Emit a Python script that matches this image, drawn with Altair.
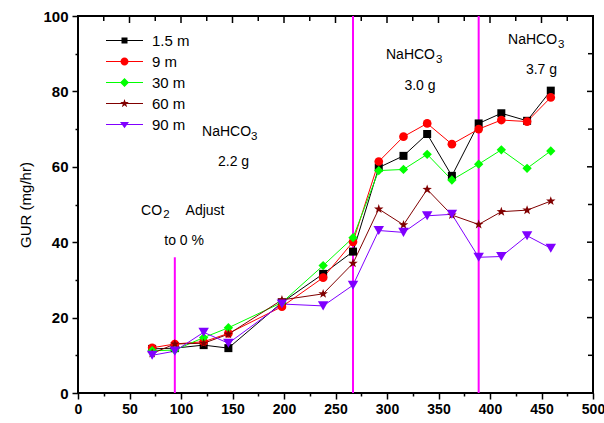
import altair as alt
import pandas as pd

# ---------------- data ----------------
time_min = [72, 94, 122, 146, 198, 238, 267, 292, 316, 339, 363, 389, 411, 436, 459]
gur_1_5m = [11.7, 11.9, 12.7, 11.9, 24.0, 31.6, 37.5, 59.8, 62.9, 68.7, 57.6, 71.5, 74.2, 72.2, 80.2]
gur_9m = [12.0, 13.0, 13.6, 15.8, 22.9, 30.6, 40.1, 61.4, 68.0, 71.5, 66.0, 70.0, 72.4, 72.0, 78.4]
gur_30m = [11.2, 11.4, 14.7, 17.3, 24.0, 33.8, 41.2, 59.0, 59.3, 63.3, 56.5, 60.7, 64.5, 59.6, 64.2]
gur_60m = [10.5, 13.0, 13.2, 15.6, 24.7, 26.3, 34.4, 48.8, 44.6, 54.0, 47.2, 44.7, 48.1, 48.5, 50.9]
gur_90m = [10.0, 11.1, 16.1, 13.2, 23.6, 23.1, 28.6, 43.1, 42.6, 47.0, 47.4, 36.0, 36.2, 41.7, 38.4]

series_names = ["1.5 m", "9 m", "30 m", "60 m", "90 m"]

rule_x = [94, 267, 389]
rule_top = [36, 100, 100]

ann_text = ["NaHCO", "2.2 g", "NaHCO", "3.0 g", "NaHCO", "3.7 g", "CO", "Adjust", "to 0 %"]
ann_x = [144.2, 151, 322.8, 332, 441.3, 450, 71.4, 123.3, 103]
ann_y = [69.3, 61.3, 89.7, 81.4, 93.6, 85.7, 48.3, 48.3, 40.3]

sub_text = ["3", "3", "3", "2"]
sub_x = [171.0, 350.6, 469.1, 85.9]
sub_y = [68.0, 88.3, 92.3, 47.1]

x_ticks = list(range(0, 501, 25))
y_ticks = list(range(0, 101, 10))
x_major = list(range(0, 501, 50))
x_minor = list(range(25, 500, 50))
y_major = list(range(0, 101, 20))
y_minor = list(range(10, 100, 20))

# ---------------- styles ----------------
W, H = 515, 377
X_MAX, Y_MAX = 500, 100
series_colors = ["#000000", "#FF0000", "#00FF00", "#800000", "#8000FF"]
STAR = ("M0,-1L0.235,-0.324L0.951,-0.309L0.38,0.124L0.588,0.809L0,0.4"
        "L-0.588,0.809L-0.38,0.124L-0.951,-0.309L-0.235,-0.324Z")
plot_shapes = ["square", "circle", "diamond", STAR, "triangle-down"]
plot_sizes = [64, 110, 150, 170, 130]

LINE = "M-3.7,-0.1H3.7V0.1H-3.7Z"
STAR_L = ("M0,-0.9L0.21,-0.29L0.86,-0.28L0.34,0.11L0.53,0.73L0,0.36"
          "L-0.53,0.73L-0.34,0.11L-0.86,-0.28L-0.21,-0.29Z")
legend_paths = [
    LINE + "M-0.6,-0.6H0.6V0.6H-0.6Z",
    LINE + "M-0.8,0A0.8,0.8 0 1,1 0.8,0A0.8,0.8 0 1,1 -0.8,0Z",
    LINE + "M0,-0.9L0.9,0L0,0.9L-0.9,0Z",
    LINE + STAR_L,
    LINE + "M-0.9,-0.5L0.9,-0.5L0,0.75Z",
]

FONT = "Liberation Sans"

rows = []
for name, vals in zip(series_names, [gur_1_5m, gur_9m, gur_30m, gur_60m, gur_90m]):
    for t, g in zip(time_min, vals):
        rows.append({"series": name, "t": t, "gur": g})
df = pd.DataFrame(rows)

rules_df = pd.DataFrame({"rx": rule_x, "ry": [0] * len(rule_x), "ry2": rule_top})
ann_df = pd.DataFrame({"tx": ann_x, "ty": ann_y, "label": ann_text})
sub_df = pd.DataFrame({"tx": sub_x, "ty": sub_y, "label": sub_text})

x_scale = alt.Scale(domain=[0, X_MAX], nice=False, zero=False)
y_scale = alt.Scale(domain=[0, Y_MAX], nice=False, zero=False)


def color_scale():
    return alt.Scale(domain=series_names, range=series_colors)


def cond(step, major, minor):
    return {"condition": {"test": f"datum.value % {step} === 0", "value": major}, "value": minor}


common_axis = dict(tickColor="black", tickWidth=1.5, domain=False, grid=False)

x_axis_main = alt.Axis(orient="bottom", values=x_ticks, tickSize=cond(50, 6, 3),
                       labelExpr="datum.value % 50 === 0 ? datum.label : ''",
                       labelFont=FONT, labelFontSize=14, labelFontWeight="bold",
                       labelColor="black", labelPadding=3, labelOverlap=False,
                       labelFlush=False, title=None, **common_axis)
y_axis_main = alt.Axis(orient="left", values=y_ticks, tickSize=cond(20, 6, 3),
                       labelExpr="datum.value % 20 === 0 ? datum.label : ''",
                       labelFont=FONT, labelFontSize=15, labelFontWeight="bold",
                       labelColor="black", labelPadding=4, labelOverlap=False,
                       title="GUR (mg/hr)", titleFont=FONT, titleFontSize=15,
                       titleFontWeight="normal", titleColor="black", titlePadding=9,
                       **common_axis)


def make_legend():
    return alt.Legend(
        title=None, orient="none", legendX=39, legendY=17, padding=0,
        labelFont=FONT, labelFontSize=15, labelColor="black",
        symbolSize=100, rowPadding=5, labelOffset=20, symbolStrokeWidth=0,
        symbolOpacity=1,
    )


# inward ticks on the top and right frame edges, placed through the scales
def top_ticks(vals, px):
    return alt.Chart(pd.DataFrame({"tv": vals})).mark_rule(
        color="#000000", strokeWidth=1.5
    ).encode(
        x=alt.X("tv:Q", scale=x_scale, axis=None),
        y=alt.Y(datum=Y_MAX, scale=y_scale, axis=None),
        y2=alt.Y2(datum=Y_MAX - px * Y_MAX / H),
    )


def right_ticks(vals, px):
    return alt.Chart(pd.DataFrame({"rv": vals})).mark_rule(
        color="#000000", strokeWidth=1.5
    ).encode(
        y=alt.Y("rv:Q", scale=y_scale, axis=None),
        x=alt.X(datum=X_MAX, scale=x_scale, axis=None),
        x2=alt.X2(datum=X_MAX - px * X_MAX / W),
    )


tick_layers = [top_ticks(x_major, 7), top_ticks(x_minor, 5),
               right_ticks(y_major, 6), right_ticks(y_minor, 5)]

rules = alt.Chart(rules_df).mark_rule(color="#FF00FF", strokeWidth=2).encode(
    x=alt.X("rx:Q", scale=x_scale, axis=None),
    y=alt.Y("ry:Q", scale=y_scale, axis=None),
    y2="ry2:Q",
)

lines = alt.Chart(df).mark_line(strokeWidth=1).encode(
    x=alt.X("t:Q", scale=x_scale, axis=None),
    y=alt.Y("gur:Q", scale=y_scale, axis=None),
    color=alt.Color("series:N", scale=color_scale(), legend=None),
)

points = alt.Chart(df).mark_point(filled=True, opacity=1, strokeWidth=0).encode(
    x=alt.X("t:Q", scale=x_scale, axis=x_axis_main),
    y=alt.Y("gur:Q", scale=y_scale, axis=y_axis_main),
    color=alt.Color("series:N", scale=color_scale(), legend=None),
    shape=alt.Shape("series:N", scale=alt.Scale(domain=series_names, range=plot_shapes),
                    legend=None),
    size=alt.Size("series:N", scale=alt.Scale(domain=series_names, range=plot_sizes),
                  legend=None),
)

legend_layer = alt.Chart(df).mark_point(filled=True, opacity=0).encode(
    x=alt.X("t:Q", scale=x_scale, axis=None),
    y=alt.Y("gur:Q", scale=y_scale, axis=None),
    color=alt.Color("series:N", scale=color_scale(), legend=make_legend()),
    shape=alt.Shape("series:N", scale=alt.Scale(domain=series_names, range=legend_paths),
                    legend=make_legend()),
)

texts = alt.Chart(ann_df).mark_text(font=FONT, fontSize=14, color="black",
                                    align="center", baseline="middle").encode(
    x=alt.X("tx:Q", scale=x_scale, axis=None),
    y=alt.Y("ty:Q", scale=y_scale, axis=None),
    text="label:N",
)

subs = alt.Chart(sub_df).mark_text(font=FONT, fontSize=11.5, color="black",
                                   align="center", baseline="middle").encode(
    x=alt.X("tx:Q", scale=x_scale, axis=None),
    y=alt.Y("ty:Q", scale=y_scale, axis=None),
    text="label:N",
)

chart = alt.layer(rules, *tick_layers, lines, points, legend_layer, texts, subs).resolve_axis(
    x="independent", y="independent"
).resolve_scale(
    color="independent", shape="independent"
).properties(
    width=W, height=H,
    autosize=alt.AutoSizeParams(type="none"),
    padding={"left": 78, "top": 16, "right": 11, "bottom": 30},
    background="white",
).configure_view(stroke="black", strokeWidth=2)

chart.save("out.html", embed_options={"renderer": "svg", "actions": False})
